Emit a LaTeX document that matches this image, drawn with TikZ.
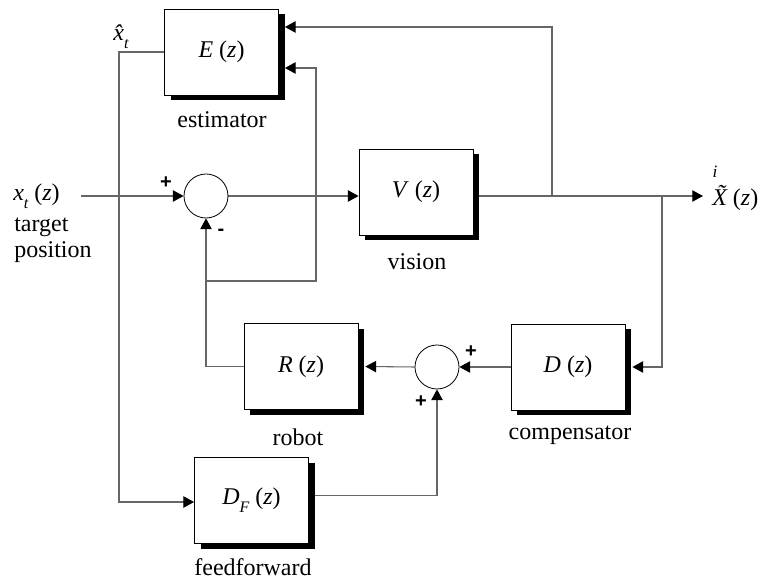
\documentclass[tikz,border=0pt]{standalone}
\usepackage{fontspec}
\setmainfont{Liberation Serif}
\newfontfamily\signfont{Liberation Sans}
\usetikzlibrary{arrows.meta,shadows,calc,backgrounds}
\newcommand\subt[1]{\raisebox{-0.75ex}{\fontsize{12}{12}\selectfont\itshape #1}}
\tikzset{
 blk/.style={draw=black, line width=0.6pt, fill=white, minimum width=85.5pt, minimum height=64.5pt, inner sep=0pt,
   drop shadow={shadow xshift=4.5pt, shadow yshift=-4pt, fill=black, opacity=1}},
 sumj/.style={circle, draw=black, line width=0.6pt, fill=white, minimum size=33pt, inner sep=0pt},
 conn/.style={draw=black!60, line width=0.8pt},
 arr/.style={conn, -{Triangle[length=8pt,width=8.5pt,color=black]}},
 lbl/.style={inner sep=0pt, font=\fontsize{18}{21}\selectfont},
 sgn/.style={inner sep=0pt, font=\signfont\bfseries\fontsize{15}{15}\selectfont},
}
\begin{document}
\begin{tikzpicture}[x=0.75pt,y=-0.75pt]
\useasboundingbox (0,0) rectangle (768,580);
% blocks
\node[blk,lbl] (E) at (221.5,52) {\textit{E} (\textit{z})};
\node[blk,lbl] (V) at (416,192) {\textit{V} (\textit{z})};
\node[blk,lbl] (D) at (568,367) {\textit{D} (\textit{z})};
\node[blk,lbl] (R) at (301,366.5) {\textit{R} (\textit{z})};
\node[blk,lbl] (DF) at (251.5,500.5) {\textit{D}\subt{F} (\textit{z})};
\node[sumj] (s1) at (206,196) {};
\node[sumj] (s2) at (437,367) {};
% labels
\node[lbl] (estl) at (222,120) {estimator};
\node[lbl] (visl) at (417,262) {vision};
\node[lbl] (robl) at (298,437) {robot};
\node[lbl] (coml) at (570,435) {compensator};
\node[lbl] (ffl) at (253,567) {feedforward};
\node[lbl,anchor=west] (xt) at (13,196) {\textit{x}\subt{t} (\textit{z})};
\node[lbl,anchor=west] (tg) at (14,227) {target};
\node[lbl,anchor=west] (ps) at (14,252) {position};
\node[lbl] (xh) at (121,37) {{\itshape\^{x}}\subt{t}};
\node[lbl,anchor=west] (Xo) at (712,198) {{\itshape\~{X}} (\textit{z})};
\node[inner sep=0pt,font=\fontsize{13}{13}\selectfont\itshape] (il) at (715,172) {i};
\node[sgn] (p1) at (166,183) {+};
\node[sgn] (m1) at (221,232) {-};
\node[sgn] (p2) at (471,352) {+};
\node[sgn] (p3) at (421,402) {+};
% coordinates
\coordinate (in) at (81,196);
\coordinate (j1) at (552,196);
\coordinate (j2) at (662,196);
\coordinate (outp) at (703,196);
\coordinate (j3) at (206,281);
\coordinate (k) at (316,281);
\coordinate (q) at (119,502);
\begin{scope}[on background layer]
\draw[arr] (in) -- (s1.west);
\draw[arr] (s1.east) -- (s1.east -| V.west);
\draw[arr] (s1.east -| V.east) -- (outp);
\draw[arr] (j1) |- ($(E.east)+(6,-25)$);
\draw[arr] (j3) -- (k) |- ($(E.east)+(6,16)$);
\draw[arr] (R.west) -| (s1.south);
\draw[arr] (j2) |- ($(D.east)+(7,0)$);
\draw[arr] (D.west) -- (s2.east);
\draw[arr] (s2.west) -- ($(R.east)+(7,0)$);
\draw[arr] (E.west) -| (q) -- (q -| DF.west);
\draw[arr] ($(DF.east)+(0,-5)$) -| (s2.south);
\end{scope}
\end{tikzpicture}
\end{document}
